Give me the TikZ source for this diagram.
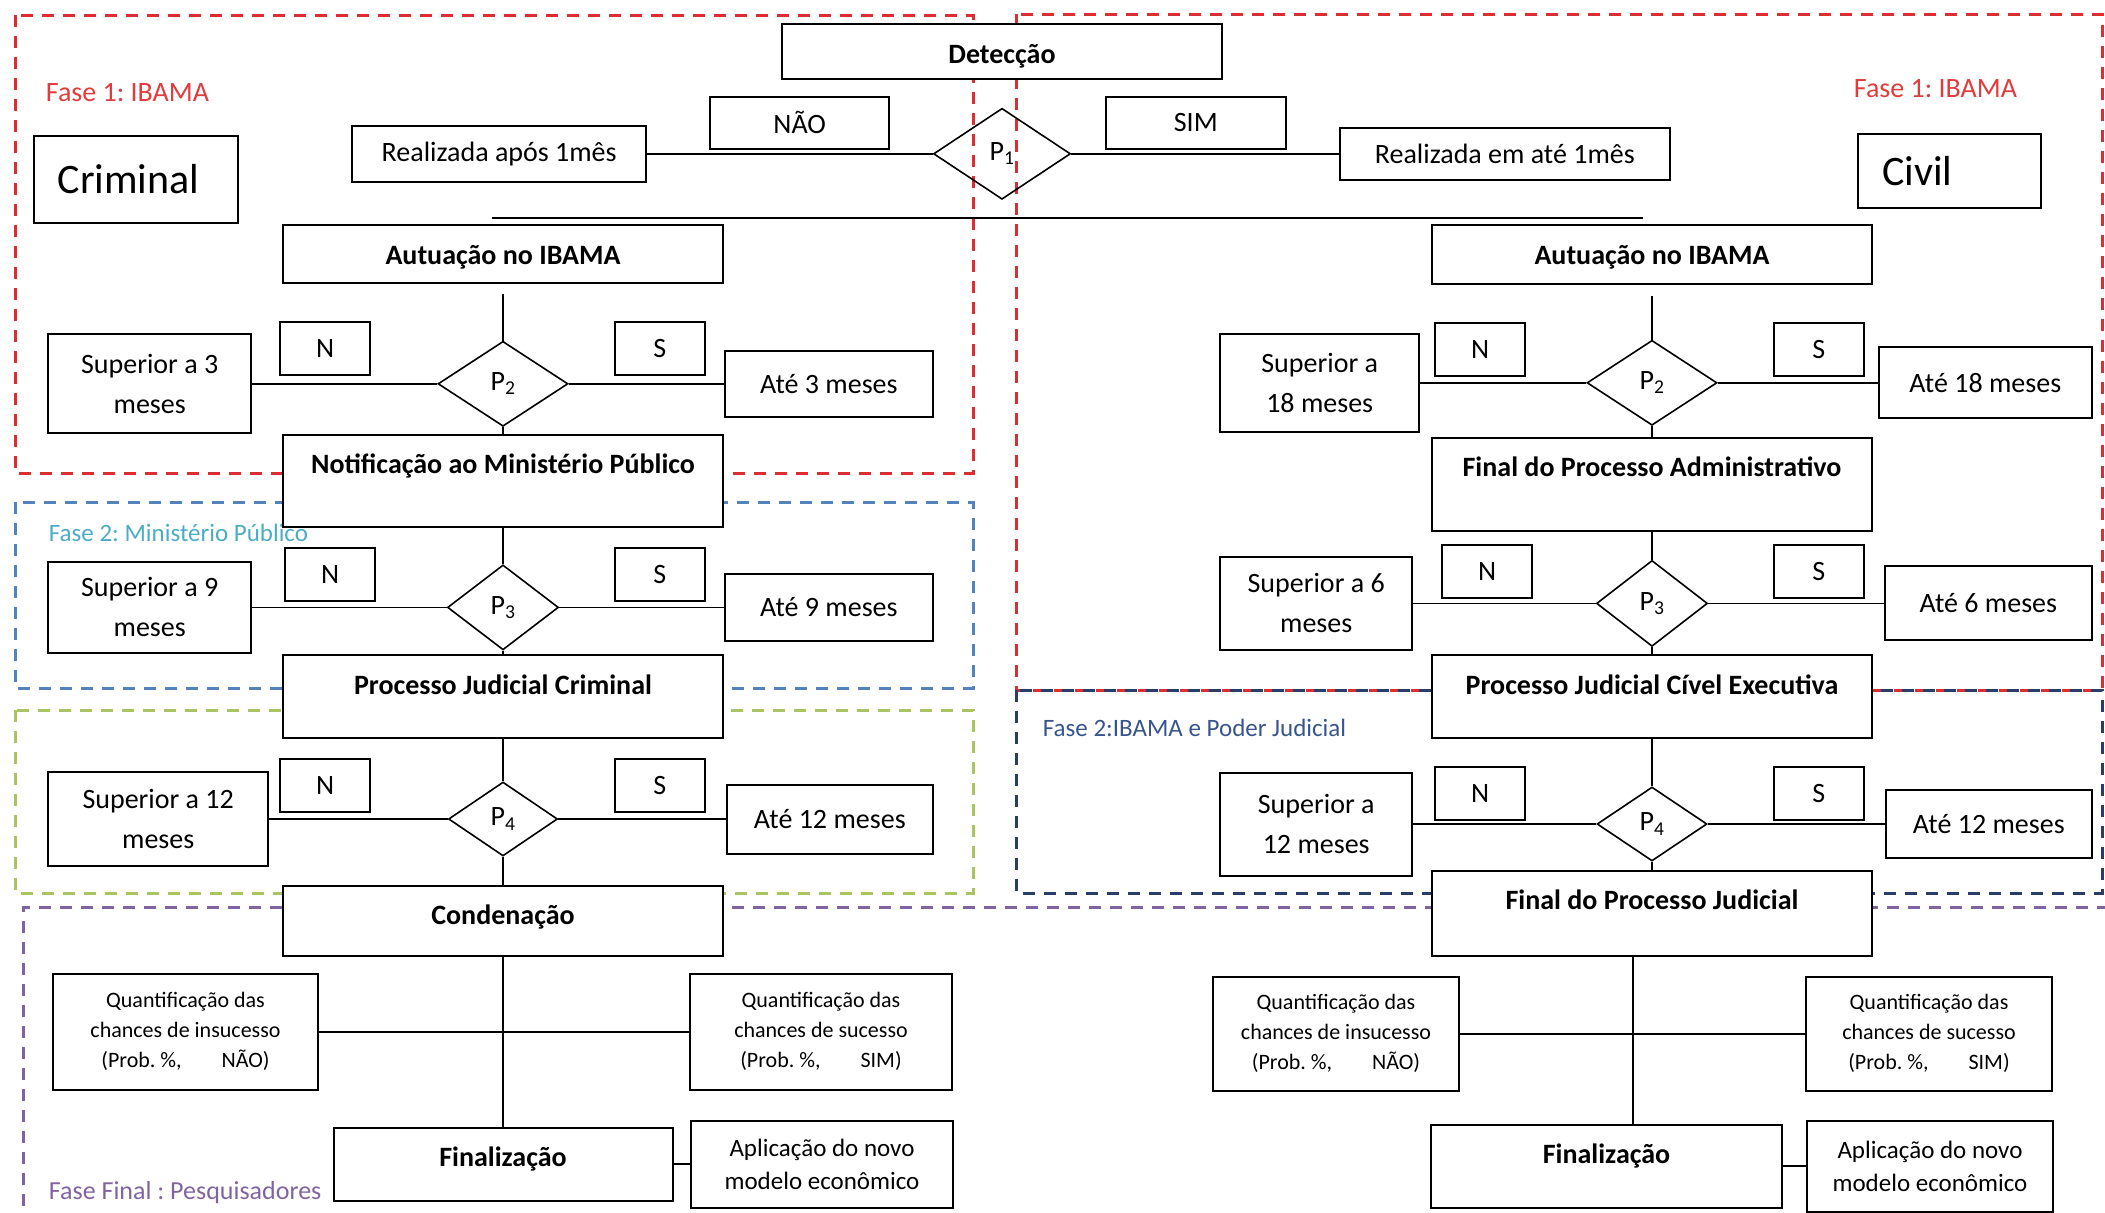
\documentclass[tikz,border=0pt]{standalone}
\usepackage{fontspec}
\setmainfont{Carlito}
\usepackage{tikz}
\usetikzlibrary{positioning,shapes.geometric,calc}
\definecolor{faseRed}{RGB}{220,45,50}
\definecolor{faseRedText}{RGB}{225,60,60}
\definecolor{faseBlue}{RGB}{84,130,186}
\definecolor{faseCyan}{RGB}{75,172,198}
\definecolor{faseGreen}{RGB}{170,196,100}
\definecolor{faseNavy}{RGB}{40,62,105}
\definecolor{faseNavyText}{RGB}{55,85,140}
\definecolor{fasePurple}{RGB}{128,100,162}
\tikzset{
  box/.style={draw, fill=white, line width=2pt, align=center, inner sep=0pt, font=\fontsize{28}{40}\selectfont},
  head/.style={draw, fill=white, line width=2pt, inner sep=0pt, minimum width=440pt, text height=39pt, text depth=#1, font=\bfseries\fontsize{28}{32}\selectfont},
  kind/.style={draw, fill=white, line width=2pt, align=left, inner xsep=24pt, inner ysep=0pt, font=\fontsize{42}{46}\selectfont},
  dec/.style={diamond, draw, line width=1.6pt, inner sep=0pt, font=\fontsize{28}{32}\selectfont},
  yn/.style={box, minimum width=90pt, minimum height=53pt},
  quant/.style={box, font=\fontsize{22}{30}\selectfont},
  phase/.style={line width=3pt, dash pattern=on 12pt off 9pt},
  tag/.style={anchor=west, inner sep=0pt, font=\fontsize{25}{28}\selectfont},
}

\begin{document}
\frenchspacing
\begin{tikzpicture}[x=1pt, y=-1pt, line width=1.8pt]
\useasboundingbox (0,0) rectangle (2105,1213);

% phases
\draw[phase, faseRed] (15,15) rectangle (973,473);
\draw[phase, faseRed] (1016,14) rectangle (2102,690);
\draw[phase, faseBlue] (15,502) rectangle (973,688);
\draw[phase, faseGreen] (15,710) rectangle (973,893);
\draw[phase, faseNavy] (1016,690) rectangle (2102,893);
\draw[phase, fasePurple] (2130,907) -- (23,907) -- (23,1240);

\node (tagL1) [tag, text=faseRedText, font=\fontsize{28}{30}\selectfont] at (45,93) {Fase 1: IBAMA};
\node (tagR1) [tag, text=faseRedText, font=\fontsize{28}{30}\selectfont] at (1853,89) {Fase 1: IBAMA};
\node (tagMP) [tag, text=faseCyan] at (48,533) {Fase 2: Ministério Público};
\node (tagPJ) [tag, text=faseNavyText] at (1042,728) {Fase 2:IBAMA e Poder Judicial};
\node (tagFim) [tag, text=fasePurple, font=\fontsize{26}{28}\selectfont] at (48,1193) {Fase Final : Pesquisadores};

\node (crim)  [kind, text width=156.5pt, minimum height=87pt] at (136,179.5) {Criminal};
\node (civil) [kind, text width=135pt, minimum height=74pt] at (1949.5,171) {Civil};

% detection
\node (detec) [head=16pt] at (1002,51.5) {Detecção};
\node (P1)   [dec, minimum width=137pt, minimum height=91pt, below=27.5pt of detec] {P\textsubscript{1}};
\node (realL)[box, minimum width=294pt, minimum height=56pt, left=285.5pt of P1] {Realizada após 1mês};
\node (realR)[box, minimum width=330pt, minimum height=52pt, right=267.5pt of P1] {Realizada em até 1mês};
\node (nao)  [box, minimum width=179pt, minimum height=52pt, above left=4pt and 42.5pt of P1.west] {NÃO};
\node (sim)  [box, minimum width=180pt, minimum height=52pt, above right=4pt and 33.5pt of P1.east] {SIM};
\coordinate (splitL) at (492,218);
\coordinate (splitR) at (1643,218);

% criminal path
\node (autL)  [head=19pt] at (503,254) {Autuação no IBAMA};
\node (P2L)   [dec, minimum width=130pt, minimum height=85pt, below=56.5pt of autL] {P\textsubscript{2}};
\node (notif) [head=53pt, below=6.5pt of P2L] {Notificação ao Ministério Público};
\node (P3L)   [dec, minimum width=111pt, minimum height=85pt, below=36.5pt of notif] {P\textsubscript{3}};
\node (PJC)   [head=44pt, below=3.5pt of P3L] {Processo Judicial Criminal};
\node (P4L)   [dec, minimum width=109pt, minimum height=74pt, below=42pt of PJC] {P\textsubscript{4}};
\node (cond)  [head=31pt, below=28pt of P4L] {Condenação};
\node (finL)  [head=34pt, minimum width=339pt, below=170pt of cond] {Finalização};

\node (supL3)  [box, minimum width=203pt, minimum height=99pt, left=185pt of P2L] {Superior a 3\\meses};
\node (ateL3)  [box, minimum width=208pt, minimum height=66pt, right=155pt of P2L] {Até 3 meses};
\node (nL2)    [yn, above left=8pt and 66pt of P2L.west] {N};
\node (sL2)    [yn, above right=8pt and 45pt of P2L.east] {S};
\node (supL9)  [box, minimum width=203pt, minimum height=91pt, left=194.5pt of P3L] {Superior a 9\\meses};
\node (ateL9)  [box, minimum width=208pt, minimum height=67pt, right=164.5pt of P3L] {Até 9 meses};
\node (nL3)    [yn, above left=5pt and 70.5pt of P3L.west] {N};
\node (sL3)    [yn, above right=5pt and 54.5pt of P3L.east] {S};
\node (supL12) [box, minimum width=220pt, minimum height=94pt, left=178.5pt of P4L] {Superior a 12\\meses};
\node (ateL12) [box, minimum width=206pt, minimum height=69pt, right=167.5pt of P4L] {Até 12 meses};
\node (nL4)    [yn, above left=6pt and 76.5pt of P4L.west] {N};
\node (sL4)    [yn, above right=6pt and 55.5pt of P4L.east] {S};

\node (qinsL) [quant, minimum width=265pt, minimum height=116pt, below left=16pt and 184pt of cond.south] {Quantificação das\\chances de insucesso\\(Prob. \%,\hspace*{40pt}NÃO)};
\node (qsucL) [quant, minimum width=262pt, minimum height=116pt, below right=16pt and 186pt of cond.south] {Quantificação das\\chances de sucesso\\(Prob. \%,\hspace*{40pt}SIM)};
\node (aplL)  [box, minimum width=262pt, minimum height=87pt, font=\fontsize{25}{33}\selectfont, right=16.5pt of finL] {Aplicação do novo\\modelo econômico};

% civil path
\node (autR) [head=20pt] at (1652,254.5) {Autuação no IBAMA};
\node (P2R)  [dec, minimum width=130pt, minimum height=85pt, below=54.5pt of autR] {P\textsubscript{2}};
\node (FPA)  [head=54pt, below=10.5pt of P2R] {Final do Processo Administrativo};
\node (P3R)  [dec, minimum width=111pt, minimum height=86pt, below=28pt of FPA] {P\textsubscript{3}};
\node (PJCE) [head=44pt, below=7pt of P3R] {Processo Judicial Cível Executiva};
\node (P4R)  [dec, minimum width=110pt, minimum height=74pt, below=47pt of PJCE] {P\textsubscript{4}};
\node (FPJ)  [head=46pt, below=8pt of P4R] {Final do Processo Judicial};
\node (finR) [head=44pt, minimum width=351pt, below=167pt of FPJ, xshift=-45.5pt] {Finalização};

\node (supR18) [box, minimum width=199pt, minimum height=98pt, left=166pt of P2R] {Superior a\\18 meses};
\node (ateR18) [box, minimum width=213pt, minimum height=71pt, right=160pt of P2R] {Até 18 meses};
\node (nR2)    [yn, above left=6pt and 60pt of P2R.west] {N};
\node (sR2)    [yn, above right=6pt and 55pt of P2R.east] {S};
\node (supR6)  [box, minimum width=192pt, minimum height=93pt, left=182.5pt of P3R] {Superior a 6\\meses};
\node (ateR6)  [box, minimum width=207pt, minimum height=74pt, right=175.5pt of P3R] {Até 6 meses};
\node (nR3)    [yn, above left=4pt and 62.5pt of P3R.west] {N};
\node (sR3)    [yn, above right=4pt and 64.5pt of P3R.east] {S};
\node (supR12) [box, minimum width=192pt, minimum height=103pt, left=183pt of P4R] {Superior a\\12 meses};
\node (ateR12) [box, minimum width=206pt, minimum height=68pt, right=177pt of P4R] {Até 12 meses};
\node (nR4)    [yn, above left=3pt and 70pt of P4R.west] {N};
\node (sR4)    [yn, above right=3pt and 65pt of P4R.east] {S};

\node (qinsR) [quant, minimum width=246pt, minimum height=114pt, below left=19pt and 192pt of FPJ.south] {Quantificação das\\chances de insucesso\\(Prob. \%,\hspace*{40pt}NÃO)};
\node (qsucR) [quant, minimum width=246pt, minimum height=114pt, below right=19pt and 153pt of FPJ.south] {Quantificação das\\chances de sucesso\\(Prob. \%,\hspace*{40pt}SIM)};
\node (aplR)  [box, minimum width=246pt, minimum height=91pt, font=\fontsize{25}{33}\selectfont, right=23pt of finR] {Aplicação do novo\\modelo econômico};

% connectors
\draw (realL) -- (P1) -- (realR);
\draw (splitL) -- (splitR);

\draw[shorten <=10pt] (autL) -- (P2L);
\draw (P2L) -- (notif) -- (P3L) -- (PJC) -- (P4L) -- (cond);
\draw (supL3) -- (P2L) -- (ateL3);
\draw (supL9) -- (P3L) -- (ateL9);
\draw (supL12) -- (P4L) -- (ateL12);
\draw (qinsL) -- (qsucL);
\draw (cond) -- (finL);
\draw (finL) -- (aplL);

\draw[shorten <=11pt] (autR) -- (P2R);
\draw (P2R) -- (FPA) -- (P3R) -- (PJCE) -- (P4R) -- (FPJ);
\draw (supR18) -- (P2R) -- (ateR18);
\draw (supR6) -- (P3R) -- (ateR6);
\draw (supR12) -- (P4R) -- (ateR12);
\draw (qinsR) -- (qsucR);
\draw ([xshift=-19pt]FPJ.south) -- ([xshift=-19pt]FPJ.south |- finR.north);
\draw (finR) -- (aplR);
\end{tikzpicture}
\end{document}
